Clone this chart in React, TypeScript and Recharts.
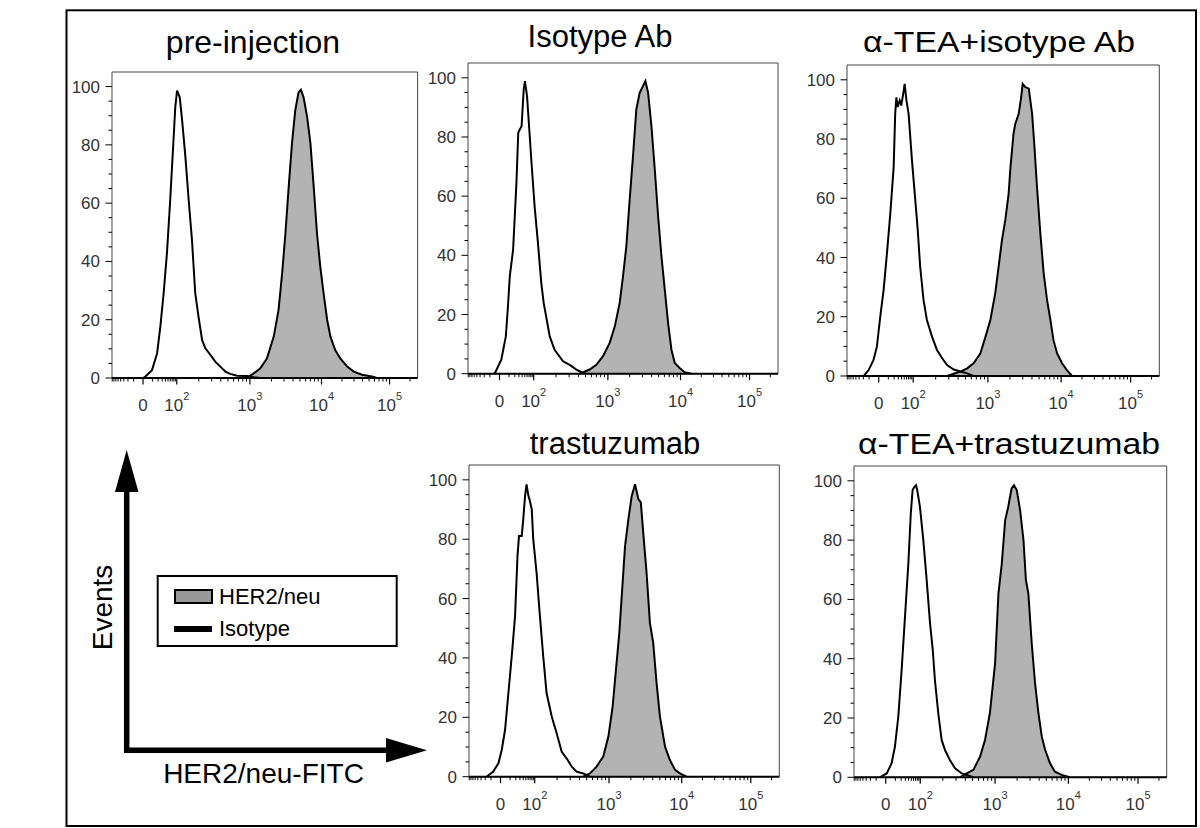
import React from 'react';
import { ComposedChart, Area, XAxis, YAxis, ReferenceArea } from 'recharts';

type Pt = [number, number];

// histogram points: [channel (0-1024 biex display), events (% of max)]
const preIsotype: Pt[] = [
  [104, 0], [112, 0.5], [134, 2.7], [151, 8.4], [162, 17.6], [173, 29], [184, 42.7], [195, 61],
  [206, 81.5], [212, 92.9], [218, 98.6], [227, 96.3], [235, 88.4], [246, 75.8], [257, 61],
  [268, 47.3], [279, 29], [290, 21], [302, 13], [313, 10.2], [330, 7.9], [346, 5.6], [363, 3.9],
  [380, 2.2], [396, 1.4], [419, 0.8], [452, 0.7], [475, 0.3], [497, 0],
];
const preHer2: Pt[] = [
  [452, 0], [475, 1.6], [497, 3.3], [519, 6.7], [542, 14.2], [558, 23.3], [570, 35.8], [581, 49.5],
  [592, 65.5], [603, 80.4], [614, 91.8], [625, 98], [633, 98.9], [642, 96.3], [654, 89.5],
  [665, 80.4], [676, 65.5], [687, 49.5], [698, 38.1], [709, 29], [721, 19.9], [732, 14.2],
  [748, 9.6], [765, 6.7], [788, 3.9], [810, 2.2], [838, 1.1], [871, 0.5], [888, 0],
];

const isoAbIsotype: Pt[] = [
  [88, 0], [110, 4.7], [125, 12.6], [132, 22.8], [138, 32.9], [149, 41.9], [160, 64.5], [166, 81.4],
  [171, 82.5], [177, 83.6], [184, 96], [188, 98.9], [195, 93.8], [204, 80.2], [209, 72.4],
  [220, 56.6], [231, 44.2], [242, 30.7], [250, 23.9], [270, 12.6], [286, 8.1], [314, 4.2],
  [336, 3], [358, 1.4], [375, 0.5], [391, 0],
];
const isoAbHer2: Pt[] = [
  [369, 0], [402, 1.4], [424, 3], [446, 5.9], [468, 10.4], [485, 16], [501, 23.9], [512, 32.9],
  [523, 43], [534, 58.8], [545, 73.5], [556, 89.3], [567, 94.9], [578, 97.2], [586, 98.9],
  [595, 94.9], [606, 83.6], [617, 69], [628, 53.2], [639, 39.7], [650, 28.4], [661, 17.1],
  [672, 8.1], [683, 3.6], [699, 1.9], [716, 0.5], [738, 0],
];

const teaIsoIsotype: Pt[] = [
  [55, 0], [71, 2], [87, 5.4], [98, 9.9], [109, 20], [120, 29], [131, 41.4], [142, 54.8],
  [153, 70.5], [158, 88.5], [162, 94.1], [166, 90.8], [173, 93], [178, 91.3], [186, 96.4],
  [189, 98.6], [195, 93], [202, 88.5], [213, 72.8], [224, 59.3], [232, 49.2], [240, 36.8],
  [251, 25.6], [262, 18.9], [279, 13.2], [295, 8.8], [312, 6], [328, 3.7], [350, 2.2],
  [372, 1.5], [394, 0.9], [415, 0],
];
const teaIsoHer2: Pt[] = [
  [328, 0], [372, 1.5], [394, 2.6], [415, 4.3], [437, 7.6], [454, 13.2], [470, 18.9], [486, 27.9],
  [497, 36.8], [508, 45.8], [519, 52.6], [530, 61.6], [536, 70.5], [546, 81.8], [552, 85.2],
  [563, 88.5], [571, 94.1], [576, 98.6], [585, 97.5], [596, 97], [607, 88.5], [614, 78.4],
  [623, 63.8], [634, 48.1], [645, 34.6], [656, 25.6], [667, 18.9], [677, 12.1], [689, 7.6],
  [705, 4.3], [721, 2], [738, 0],
];

const trasIsotype: Pt[] = [
  [58, 0], [80, 1.7], [97, 4.5], [108, 9], [119, 15.8], [130, 28.2], [141, 40.5], [152, 54.1],
  [160, 74.3], [165, 81.1], [174, 81.1], [179, 86.7], [185, 94.6], [190, 98.5], [196, 94.6],
  [201, 92.9], [207, 90.1], [212, 80], [223, 68.7], [234, 54.1], [245, 40.5], [256, 28.2],
  [273, 20.3], [289, 14.7], [306, 8.4], [322, 6.2], [339, 3.4], [355, 1.7], [377, 1.1], [399, 0],
];
const trasHer2: Pt[] = [
  [377, 0], [399, 1.1], [421, 3.4], [443, 6.8], [460, 13.5], [474, 23.6], [487, 38.3], [496, 48.4],
  [504, 60.8], [515, 77.7], [526, 86.7], [537, 94.6], [548, 98.5], [559, 93.5], [567, 92.4],
  [575, 82.2], [586, 68.7], [597, 51.8], [608, 45], [619, 31.6], [630, 20.3], [647, 10.1],
  [663, 5.6], [680, 2.3], [696, 1.1], [718, 0],
];

const teaTrasIsotype: Pt[] = [
  [85, 0], [107, 1.3], [123, 4.7], [134, 10.3], [145, 20.4], [156, 36.2], [167, 54.2], [178, 72.1],
  [186, 89], [192, 96.9], [198, 98], [203, 98.5], [207, 96.9], [216, 91.2], [227, 80],
  [238, 66.5], [249, 51.9], [258, 42.9], [265, 32.8], [276, 21.6], [287, 12.6], [298, 9.2],
  [314, 5.8], [331, 3], [353, 1.3], [369, 0.8], [391, 0],
];
const teaTrasHer2: Pt[] = [
  [347, 0], [369, 1.3], [391, 2.5], [413, 7], [429, 12.6], [445, 21.6], [462, 38.4], [473, 62],
  [484, 72.1], [495, 86.7], [505, 91.2], [516, 97.4], [524, 98.5], [533, 96.9], [544, 90.1],
  [555, 80], [563, 66.5], [571, 62], [582, 45.2], [593, 31.7], [604, 21.6], [615, 13.7],
  [626, 9.2], [642, 4.7], [658, 1.9], [680, 0.8], [707, 0],
];

// axis
const xTickChannels = [104, 217, 462, 702, 930];
const xTickLabels = ['0', '10^2', '10^3', '10^4', '10^5'];
const xMinorValues = [
  -80, -70, -60, -50, -40, -30, -20, -10, 10, 20, 30, 40, 50, 60, 70, 80, 90,
  200, 300, 400, 500, 600, 700, 800, 900, 2000, 3000, 4000, 5000, 6000, 7000, 8000, 9000,
  20000, 30000, 40000, 50000, 60000, 70000, 80000, 90000, 200000,
];
const yTicks = [0, 5, 10, 15, 20, 25, 30, 35, 40, 45, 50, 55, 60, 65, 70, 75, 80, 85, 90, 95, 100];

const FONT = '"Liberation Sans", Arial, Helvetica, sans-serif';

// position of a fluorescence value on the channel axis (biex-like)
const toChannel = (v: number) => {
  const zero = xTickChannels[0];
  const c100 = xTickChannels[1];
  if (Math.abs(v) < 100) {
    return zero + Math.sign(v) * (c100 - zero) * Math.log10(1 + (9 * Math.abs(v)) / 100);
  }
  const k = Math.floor(Math.log10(v));
  const idx = k - 1; // 10^2 -> 1
  const lo = xTickChannels[idx];
  const hi = idx + 1 < xTickChannels.length ? xTickChannels[idx + 1] : lo + (lo - xTickChannels[idx - 1]);
  return lo + Math.log10(v / Math.pow(10, k)) * (hi - lo);
};

const xTicks = [...xTickChannels, ...xMinorValues.map(toChannel).filter((c) => c >= 0 && c <= 1024)].sort(
  (a, b) => a - b
);

const XTick = (props: any) => {
  const { x, y, payload } = props;
  const i = xTickChannels.indexOf(payload.value);
  if (i < 0) {
    return <line x1={x} x2={x} y1={y} y2={y + 3.5} stroke="#000" strokeWidth={1} />;
  }
  const label = xTickLabels[i];
  const [base, exp] = label.split('^');
  return (
    <g>
      <line x1={x} x2={x} y1={y} y2={y + 6.5} stroke="#000" strokeWidth={1.2} />
      <text x={x} y={y + 33} textAnchor="middle" fontSize={17} fill="#333" fontFamily={FONT}>
        <tspan>{base}</tspan>
        {exp && (
          <tspan dy={-11} fontSize={11}>
            {exp}
          </tspan>
        )}
      </text>
    </g>
  );
};

const YTick = (props: any) => {
  const { x, y, payload } = props;
  const major = payload.value % 20 === 0;
  return (
    <g>
      <line x1={x - (major ? 6.5 : 3.5)} x2={x} y1={y} y2={y} stroke="#000" strokeWidth={1} />
      {major && (
        <text x={x - 12} y={y + 6} textAnchor="end" fontSize={17} fill="#333" fontFamily={FONT}>
          {payload.value}
        </text>
      )}
    </g>
  );
};

interface PanelProps {
  isotype: Pt[];
  her2: Pt[];
  left: number;
  top: number;
  w: number;
  h: number;
}

const Panel: React.FC<PanelProps> = ({ isotype, her2, left, top, w, h }) => {
  const rows = [
    ...isotype.map(([ch, v]) => ({ ch, iso: v })),
    ...her2.map(([ch, v]) => ({ ch, her: v })),
  ].sort((a, b) => a.ch - b.ch);

  return (
    <div style={{ position: 'absolute', left: left - 50, top: top - 5 }}>
      <ComposedChart width={w + 60} height={h + 50} data={rows} margin={{ top: 5, right: 10, bottom: 0, left: 0 }}>
        <XAxis
          dataKey="ch"
          type="number"
          domain={[0, 1024]}
          allowDataOverflow
          ticks={xTicks}
          interval={0}
          tick={<XTick />}
          tickLine={false}
          tickSize={0}
          tickMargin={0}
          height={45}
          axisLine={{ stroke: '#000', strokeWidth: 2 }}
        />
        <YAxis
          type="number"
          domain={[0, 105]}
          allowDataOverflow
          ticks={yTicks}
          interval={0}
          tick={<YTick />}
          tickLine={false}
          tickSize={0}
          tickMargin={0}
          width={50}
          axisLine={false}
        />
        <ReferenceArea x1={0} x2={1024} y1={0} y2={105} fill="none" stroke="#444" strokeWidth={1} ifOverflow="visible" />
        <Area
          dataKey="her"
          type="linear"
          stroke="#000"
          strokeWidth={2}
          fill="#b3b3b3"
          fillOpacity={1}
          connectNulls
          dot={false}
          activeDot={false}
          isAnimationActive={false}
        />
        <Area
          dataKey="iso"
          type="linear"
          stroke="#000"
          strokeWidth={2}
          fill="none"
          fillOpacity={0}
          connectNulls
          dot={false}
          activeDot={false}
          isAnimationActive={false}
        />
      </ComposedChart>
    </div>
  );
};

const Overlay = () => (
  <svg width={1200} height={828} style={{ position: 'absolute', left: 0, top: 0, pointerEvents: 'none' }}>
    <rect x={66.5} y={10.3} width={1129.5} height={815.7} fill="none" stroke="#000" strokeWidth={2} />
    <g fontFamily={FONT} fill="#000">
      <text x={253} y={53} fontSize={32} textAnchor="middle">pre-injection</text>
      <text x={600} y={47} fontSize={31} textAnchor="middle">Isotype Ab</text>
      <text x={863} y={52} fontSize={29} textLength={272} lengthAdjust="spacingAndGlyphs">α-TEA+isotype Ab</text>
      <text x={615} y={454} fontSize={31} textAnchor="middle">trastuzumab</text>
      <text x={858} y={454} fontSize={29} textLength={302} lengthAdjust="spacingAndGlyphs">α-TEA+trastuzumab</text>
      <text x={263.5} y={783} fontSize={28} textAnchor="middle">HER2/neu-FITC</text>
      <text x={0} y={0} fontSize={28} textAnchor="middle" transform="translate(111.5 607.5) rotate(-90)">Events</text>
    </g>
    {/* axis arrows */}
    <line x1={126.7} y1={753} x2={126.7} y2={488} stroke="#000" strokeWidth={5.5} />
    <polygon points="115,492 138.5,492 126.7,450" fill="#000" />
    <line x1={124} y1={750.3} x2={390} y2={750.3} stroke="#000" strokeWidth={5.5} />
    <polygon points="386,738 386,762.5 427,750.3" fill="#000" />
    {/* legend */}
    <rect x={157.7} y={576} width={239} height={70} fill="#fff" stroke="#000" strokeWidth={2} />
    <rect x={175} y={590} width={37} height={13} fill="#999" stroke="#000" strokeWidth={2} />
    <text x={219} y={604} fontSize={22} fontFamily={FONT}>HER2/neu</text>
    <rect x={174} y={626} width={38} height={6} fill="#000" />
    <text x={219} y={636} fontSize={22} fontFamily={FONT}>Isotype</text>
  </svg>
);

export default function App() {
  return (
    <div style={{ position: 'absolute', left: 0, top: 0, width: 1200, height: 828, background: '#fff' }}>
      <Panel isotype={preIsotype} her2={preHer2} left={111.7} top={72} w={305.6} h={306} />
      <Panel isotype={isoAbIsotype} her2={isoAbHer2} left={468.3} top={63.3} w={310} h={310.7} />
      <Panel isotype={teaIsoIsotype} her2={teaIsoHer2} left={846.7} top={65} w={312.3} h={311} />
      <Panel isotype={trasIsotype} her2={trasHer2} left={469} top={465} w={310.3} h={311.7} />
      <Panel isotype={teaTrasIsotype} her2={teaTrasHer2} left={854} top={466} w={312.7} h={311.3} />
      <Overlay />
    </div>
  );
}
